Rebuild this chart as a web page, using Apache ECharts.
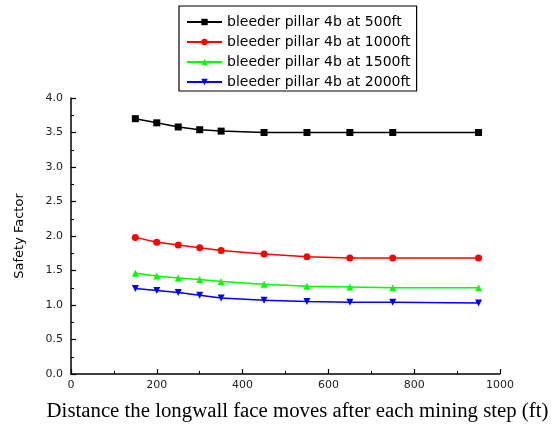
<!DOCTYPE html>
<html>
<head>
<meta charset="utf-8">
<script src="https://cdn.jsdelivr.net/npm/echarts@6/dist/echarts.min.js"></script>
<style>
  html,body{margin:0;padding:0;background:#fff;}
  #chart{width:552px;height:427px;}
</style>
</head>
<body>
<div id="chart"></div>
<script>
// ---- data ----
const distance = [150, 200, 250, 300, 350, 450, 550, 650, 750, 950];
const sf500  = [3.70, 3.64, 3.58, 3.54, 3.52, 3.50, 3.50, 3.50, 3.50, 3.50];
const sf1000 = [1.98, 1.91, 1.87, 1.83, 1.79, 1.74, 1.70, 1.68, 1.68, 1.68];
const sf1500 = [1.46, 1.42, 1.39, 1.37, 1.34, 1.30, 1.27, 1.26, 1.25, 1.25];
const sf2000 = [1.24, 1.21, 1.18, 1.14, 1.10, 1.07, 1.05, 1.04, 1.04, 1.03];
const seriesNames = [
  'bleeder pillar 4b at 500ft',
  'bleeder pillar 4b at 1000ft',
  'bleeder pillar 4b at 1500ft',
  'bleeder pillar 4b at 2000ft'
];

const C = { black:'#000000', red:'#ff0000', green:'#00ff00', blue:'#0000ff' };
const downTri = 'path://M0,0 L10,0 L5,9 Z';

function pairs(ys){ return distance.map((x,i)=>[x, ys[i]]); }
function line(name, ys, color, symbol){
  return {
    name, type:'line', data:pairs(ys), symbol, symbolSize:7,
    lineStyle:{ width:1.5, color }, itemStyle:{ color }
  };
}

const chart = echarts.init(document.getElementById('chart'));
const axisLine = { lineStyle:{ color:'#000', width:1.5 } };
const axisLabel = { color:'#222', fontSize:11, fontFamily:'DejaVu Sans' };

chart.setOption({
  animation:false,
  legend:{
    orient:'vertical', left:179, top:6,
    data:seriesNames,
    itemWidth:35, itemHeight:8, itemGap:4, itemTextGap:6,
    padding:[8, 6, 1, 7],
    borderColor:'#000', borderWidth:1.2,
    textStyle:{ color:'#000', fontSize:14, fontFamily:'DejaVu Sans', lineHeight:16 }
  },
  grid:{ left:71, right:52, top:98, bottom:52 },
  xAxis:{
    type:'value', min:0, max:1000, interval:200,
    name:'Distance the longwall face moves after each mining step (ft)',
    nameLocation:'middle', nameGap:27,
    nameTextStyle:{ color:'#000', fontSize:20.8, fontFamily:'Liberation Serif', padding:[0,0,0,24] },
    axisLine, axisLabel:{ ...axisLabel, margin:6, formatter:v=>String(v) },
    axisTick:{ inside:true, length:5, lineStyle:{ color:'#000', width:1.2 } },
    minorTick:{ show:true, splitNumber:2, length:3, lineStyle:{ color:'#000' } },
    splitLine:{ show:false }
  },
  yAxis:{
    type:'value', min:0, max:4, interval:0.5,
    name:'Safety Factor',
    nameLocation:'middle', nameGap:45,
    nameTextStyle:{ color:'#000', fontSize:13, fontFamily:'DejaVu Sans' },
    axisLine, axisLabel:{ ...axisLabel, margin:8, formatter:v=>v.toFixed(1) },
    axisTick:{ inside:true, length:5, lineStyle:{ color:'#000', width:1.2 } },
    minorTick:{ show:true, splitNumber:2, length:3, lineStyle:{ color:'#000' } },
    splitLine:{ show:false }
  },
  series:[
    line(seriesNames[0], sf500,  C.black, 'rect'),
    line(seriesNames[1], sf1000, C.red,   'circle'),
    line(seriesNames[2], sf1500, C.green, 'triangle'),
    line(seriesNames[3], sf2000, C.blue,  downTri)
  ]
});
</script>
</body>
</html>
